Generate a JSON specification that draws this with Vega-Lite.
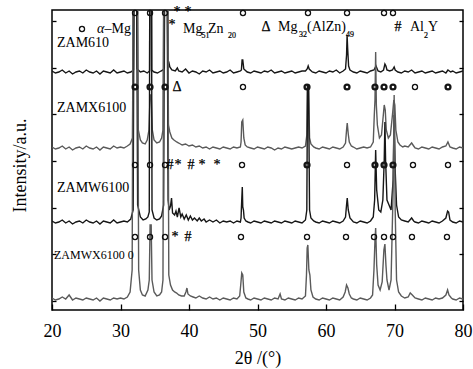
{
  "$schema": "https://vega.github.io/schema/vega-lite/v6.json",
  "autosize": {"type": "none"},
  "padding": {"left": 52, "top": 10, "right": 10, "bottom": 59},
  "width": 411,
  "height": 300,
  "background": "white",
  "view": {"stroke": "black", "strokeWidth": 1.5},
  "config": {"font": "Liberation Serif", "text": {"font": "Liberation Serif"}},
  "datasets": {
    "xrd": [
      {"s":"ZAM610","t":20,"i":239},{"s":"ZAM610","t":20.5,"i":237},{"s":"ZAM610","t":21,"i":238},{"s":"ZAM610","t":21.5,"i":240},{"s":"ZAM610","t":22,"i":237},{"s":"ZAM610","t":22.5,"i":239},{"s":"ZAM610","t":23,"i":236},{"s":"ZAM610","t":23.5,"i":238},{"s":"ZAM610","t":24,"i":239},{"s":"ZAM610","t":24.5,"i":237},{"s":"ZAM610","t":25,"i":240},{"s":"ZAM610","t":25.5,"i":238},{"s":"ZAM610","t":26,"i":237},{"s":"ZAM610","t":26.5,"i":239},{"s":"ZAM610","t":27,"i":236},{"s":"ZAM610","t":27.5,"i":239},{"s":"ZAM610","t":28,"i":238},{"s":"ZAM610","t":28.5,"i":237},{"s":"ZAM610","t":29,"i":240},{"s":"ZAM610","t":29.5,"i":237},{"s":"ZAM610","t":30,"i":238},{"s":"ZAM610","t":30.5,"i":239},{"s":"ZAM610","t":31,"i":237},{"s":"ZAM610","t":31.5,"i":238},{"s":"ZAM610","t":31.9,"i":240},{"s":"ZAM610","t":32.12,"i":640},{"s":"ZAM610","t":32.18,"i":640},{"s":"ZAM610","t":32.45,"i":241},{"s":"ZAM610","t":32.9,"i":238},{"s":"ZAM610","t":33.4,"i":239},{"s":"ZAM610","t":33.9,"i":237},{"s":"ZAM610","t":34.25,"i":239},{"s":"ZAM610","t":34.36,"i":640},{"s":"ZAM610","t":34.44,"i":640},{"s":"ZAM610","t":34.55,"i":240},{"s":"ZAM610","t":34.9,"i":238},{"s":"ZAM610","t":35.4,"i":237},{"s":"ZAM610","t":35.9,"i":239},{"s":"ZAM610","t":36.2,"i":240},{"s":"ZAM610","t":36.4,"i":242},{"s":"ZAM610","t":36.57,"i":640},{"s":"ZAM610","t":36.63,"i":640},{"s":"ZAM610","t":36.9,"i":250},{"s":"ZAM610","t":37.05,"i":248},{"s":"ZAM610","t":37.2,"i":243},{"s":"ZAM610","t":37.5,"i":240},{"s":"ZAM610","t":38.0,"i":239},{"s":"ZAM610","t":38.3,"i":242},{"s":"ZAM610","t":38.5,"i":239},{"s":"ZAM610","t":39.0,"i":238},{"s":"ZAM610","t":39.5,"i":241},{"s":"ZAM610","t":40,"i":237},{"s":"ZAM610","t":40.5,"i":239},{"s":"ZAM610","t":41,"i":238},{"s":"ZAM610","t":41.5,"i":236},{"s":"ZAM610","t":42,"i":239},{"s":"ZAM610","t":42.5,"i":238},{"s":"ZAM610","t":43,"i":240},{"s":"ZAM610","t":43.5,"i":237},{"s":"ZAM610","t":44,"i":238},{"s":"ZAM610","t":44.5,"i":239},{"s":"ZAM610","t":45,"i":237},{"s":"ZAM610","t":45.5,"i":238},{"s":"ZAM610","t":46,"i":240},{"s":"ZAM610","t":46.5,"i":237},{"s":"ZAM610","t":47,"i":238},{"s":"ZAM610","t":47.5,"i":239},{"s":"ZAM610","t":47.65,"i":240},{"s":"ZAM610","t":47.75,"i":250},{"s":"ZAM610","t":47.85,"i":250},{"s":"ZAM610","t":48.0,"i":241},{"s":"ZAM610","t":48.5,"i":238},{"s":"ZAM610","t":49,"i":237},{"s":"ZAM610","t":49.5,"i":239},{"s":"ZAM610","t":50,"i":238},{"s":"ZAM610","t":50.5,"i":237},{"s":"ZAM610","t":51,"i":239},{"s":"ZAM610","t":51.5,"i":238},{"s":"ZAM610","t":52,"i":240},{"s":"ZAM610","t":52.5,"i":237},{"s":"ZAM610","t":53,"i":238},{"s":"ZAM610","t":53.5,"i":239},{"s":"ZAM610","t":54,"i":237},{"s":"ZAM610","t":54.5,"i":238},{"s":"ZAM610","t":55,"i":239},{"s":"ZAM610","t":55.5,"i":237},{"s":"ZAM610","t":56,"i":238},{"s":"ZAM610","t":56.5,"i":239},{"s":"ZAM610","t":57.0,"i":239},{"s":"ZAM610","t":57.25,"i":241},{"s":"ZAM610","t":57.4,"i":244},{"s":"ZAM610","t":57.55,"i":241},{"s":"ZAM610","t":58,"i":238},{"s":"ZAM610","t":58.5,"i":237},{"s":"ZAM610","t":59,"i":239},{"s":"ZAM610","t":59.5,"i":238},{"s":"ZAM610","t":60,"i":237},{"s":"ZAM610","t":60.5,"i":239},{"s":"ZAM610","t":61,"i":238},{"s":"ZAM610","t":61.5,"i":240},{"s":"ZAM610","t":62,"i":237},{"s":"ZAM610","t":62.5,"i":239},{"s":"ZAM610","t":62.85,"i":241},{"s":"ZAM610","t":63.0,"i":255},{"s":"ZAM610","t":63.08,"i":275},{"s":"ZAM610","t":63.16,"i":262},{"s":"ZAM610","t":63.3,"i":244},{"s":"ZAM610","t":63.5,"i":240},{"s":"ZAM610","t":64,"i":238},{"s":"ZAM610","t":64.5,"i":237},{"s":"ZAM610","t":65,"i":239},{"s":"ZAM610","t":65.5,"i":238},{"s":"ZAM610","t":66,"i":237},{"s":"ZAM610","t":66.5,"i":239},{"s":"ZAM610","t":67.0,"i":240},{"s":"ZAM610","t":67.3,"i":244},{"s":"ZAM610","t":67.6,"i":239},{"s":"ZAM610","t":68.0,"i":238},{"s":"ZAM610","t":68.4,"i":240},{"s":"ZAM610","t":68.6,"i":246},{"s":"ZAM610","t":68.75,"i":244},{"s":"ZAM610","t":68.9,"i":240},{"s":"ZAM610","t":69.3,"i":239},{"s":"ZAM610","t":69.7,"i":240},{"s":"ZAM610","t":69.95,"i":243},{"s":"ZAM610","t":70.1,"i":240},{"s":"ZAM610","t":70.5,"i":238},{"s":"ZAM610","t":71,"i":237},{"s":"ZAM610","t":71.5,"i":239},{"s":"ZAM610","t":72,"i":238},{"s":"ZAM610","t":72.5,"i":240},{"s":"ZAM610","t":73,"i":237},{"s":"ZAM610","t":73.5,"i":238},{"s":"ZAM610","t":74,"i":239},{"s":"ZAM610","t":74.5,"i":237},{"s":"ZAM610","t":75,"i":238},{"s":"ZAM610","t":75.5,"i":239},{"s":"ZAM610","t":76,"i":237},{"s":"ZAM610","t":76.5,"i":238},{"s":"ZAM610","t":77,"i":239},{"s":"ZAM610","t":77.5,"i":237},{"s":"ZAM610","t":77.8,"i":240},{"s":"ZAM610","t":78.2,"i":238},{"s":"ZAM610","t":78.5,"i":239},{"s":"ZAM610","t":79,"i":237},{"s":"ZAM610","t":79.5,"i":238},{"s":"ZAM610","t":80,"i":239},

      {"s":"ZAMX6100","t":20,"i":163},{"s":"ZAMX6100","t":20.5,"i":161},{"s":"ZAMX6100","t":21,"i":162},{"s":"ZAMX6100","t":21.5,"i":164},{"s":"ZAMX6100","t":22,"i":161},{"s":"ZAMX6100","t":22.5,"i":163},{"s":"ZAMX6100","t":23,"i":160},{"s":"ZAMX6100","t":23.5,"i":162},{"s":"ZAMX6100","t":24,"i":163},{"s":"ZAMX6100","t":24.5,"i":161},{"s":"ZAMX6100","t":25,"i":164},{"s":"ZAMX6100","t":25.5,"i":162},{"s":"ZAMX6100","t":26,"i":161},{"s":"ZAMX6100","t":26.5,"i":163},{"s":"ZAMX6100","t":27,"i":160},{"s":"ZAMX6100","t":27.5,"i":163},{"s":"ZAMX6100","t":28,"i":162},{"s":"ZAMX6100","t":28.5,"i":161},{"s":"ZAMX6100","t":29,"i":164},{"s":"ZAMX6100","t":29.5,"i":162},{"s":"ZAMX6100","t":30,"i":163},{"s":"ZAMX6100","t":30.5,"i":162},{"s":"ZAMX6100","t":31,"i":164},{"s":"ZAMX6100","t":31.4,"i":166},{"s":"ZAMX6100","t":31.75,"i":172},{"s":"ZAMX6100","t":32.06,"i":600},{"s":"ZAMX6100","t":32.24,"i":600},{"s":"ZAMX6100","t":32.6,"i":180},{"s":"ZAMX6100","t":32.9,"i":170},{"s":"ZAMX6100","t":33.2,"i":167},{"s":"ZAMX6100","t":33.6,"i":166},{"s":"ZAMX6100","t":33.9,"i":170},{"s":"ZAMX6100","t":34.15,"i":180},{"s":"ZAMX6100","t":34.32,"i":215},{"s":"ZAMX6100","t":34.48,"i":215},{"s":"ZAMX6100","t":34.65,"i":180},{"s":"ZAMX6100","t":34.9,"i":170},{"s":"ZAMX6100","t":35.3,"i":167},{"s":"ZAMX6100","t":35.7,"i":168},{"s":"ZAMX6100","t":36.0,"i":172},{"s":"ZAMX6100","t":36.2,"i":180},{"s":"ZAMX6100","t":36.51,"i":600},{"s":"ZAMX6100","t":36.69,"i":600},{"s":"ZAMX6100","t":37.0,"i":185},{"s":"ZAMX6100","t":37.2,"i":178},{"s":"ZAMX6100","t":37.5,"i":172},{"s":"ZAMX6100","t":37.8,"i":170},{"s":"ZAMX6100","t":38.2,"i":168},{"s":"ZAMX6100","t":38.5,"i":167},{"s":"ZAMX6100","t":39,"i":165},{"s":"ZAMX6100","t":39.5,"i":166},{"s":"ZAMX6100","t":40,"i":164},{"s":"ZAMX6100","t":40.5,"i":165},{"s":"ZAMX6100","t":41,"i":163},{"s":"ZAMX6100","t":41.5,"i":164},{"s":"ZAMX6100","t":42,"i":162},{"s":"ZAMX6100","t":42.5,"i":163},{"s":"ZAMX6100","t":43,"i":161},{"s":"ZAMX6100","t":43.5,"i":163},{"s":"ZAMX6100","t":44,"i":162},{"s":"ZAMX6100","t":44.5,"i":161},{"s":"ZAMX6100","t":45,"i":163},{"s":"ZAMX6100","t":45.5,"i":162},{"s":"ZAMX6100","t":46,"i":161},{"s":"ZAMX6100","t":46.5,"i":163},{"s":"ZAMX6100","t":47,"i":162},{"s":"ZAMX6100","t":47.5,"i":163},{"s":"ZAMX6100","t":47.6,"i":168},{"s":"ZAMX6100","t":47.7,"i":188},{"s":"ZAMX6100","t":47.85,"i":190},{"s":"ZAMX6100","t":48.0,"i":172},{"s":"ZAMX6100","t":48.2,"i":165},{"s":"ZAMX6100","t":48.5,"i":163},{"s":"ZAMX6100","t":49,"i":162},{"s":"ZAMX6100","t":49.5,"i":161},{"s":"ZAMX6100","t":50,"i":163},{"s":"ZAMX6100","t":50.5,"i":162},{"s":"ZAMX6100","t":51,"i":161},{"s":"ZAMX6100","t":51.5,"i":163},{"s":"ZAMX6100","t":52,"i":162},{"s":"ZAMX6100","t":52.5,"i":160},{"s":"ZAMX6100","t":53,"i":162},{"s":"ZAMX6100","t":53.5,"i":161},{"s":"ZAMX6100","t":54,"i":163},{"s":"ZAMX6100","t":54.5,"i":162},{"s":"ZAMX6100","t":55,"i":161},{"s":"ZAMX6100","t":55.5,"i":162},{"s":"ZAMX6100","t":56,"i":163},{"s":"ZAMX6100","t":56.5,"i":162},{"s":"ZAMX6100","t":57.0,"i":164},{"s":"ZAMX6100","t":57.2,"i":175},{"s":"ZAMX6100","t":57.3,"i":225},{"s":"ZAMX6100","t":57.45,"i":225},{"s":"ZAMX6100","t":57.6,"i":172},{"s":"ZAMX6100","t":57.8,"i":166},{"s":"ZAMX6100","t":58.2,"i":163},{"s":"ZAMX6100","t":58.5,"i":162},{"s":"ZAMX6100","t":59,"i":161},{"s":"ZAMX6100","t":59.5,"i":163},{"s":"ZAMX6100","t":60,"i":162},{"s":"ZAMX6100","t":60.5,"i":161},{"s":"ZAMX6100","t":61,"i":163},{"s":"ZAMX6100","t":61.5,"i":162},{"s":"ZAMX6100","t":62,"i":161},{"s":"ZAMX6100","t":62.5,"i":163},{"s":"ZAMX6100","t":62.85,"i":167},{"s":"ZAMX6100","t":63.0,"i":180},{"s":"ZAMX6100","t":63.1,"i":187},{"s":"ZAMX6100","t":63.25,"i":176},{"s":"ZAMX6100","t":63.4,"i":168},{"s":"ZAMX6100","t":63.7,"i":164},{"s":"ZAMX6100","t":64,"i":163},{"s":"ZAMX6100","t":64.5,"i":161},{"s":"ZAMX6100","t":65,"i":162},{"s":"ZAMX6100","t":65.5,"i":163},{"s":"ZAMX6100","t":66,"i":162},{"s":"ZAMX6100","t":66.5,"i":163},{"s":"ZAMX6100","t":66.9,"i":168},{"s":"ZAMX6100","t":67.05,"i":195},{"s":"ZAMX6100","t":67.15,"i":210},{"s":"ZAMX6100","t":67.25,"i":258},{"s":"ZAMX6100","t":67.35,"i":205},{"s":"ZAMX6100","t":67.5,"i":185},{"s":"ZAMX6100","t":67.8,"i":172},{"s":"ZAMX6100","t":68.1,"i":175},{"s":"ZAMX6100","t":68.3,"i":190},{"s":"ZAMX6100","t":68.5,"i":205},{"s":"ZAMX6100","t":68.65,"i":200},{"s":"ZAMX6100","t":68.8,"i":180},{"s":"ZAMX6100","t":69.1,"i":172},{"s":"ZAMX6100","t":69.4,"i":175},{"s":"ZAMX6100","t":69.7,"i":195},{"s":"ZAMX6100","t":69.9,"i":210},{"s":"ZAMX6100","t":70.05,"i":205},{"s":"ZAMX6100","t":70.2,"i":180},{"s":"ZAMX6100","t":70.5,"i":168},{"s":"ZAMX6100","t":70.8,"i":165},{"s":"ZAMX6100","t":71.2,"i":163},{"s":"ZAMX6100","t":71.5,"i":164},{"s":"ZAMX6100","t":72,"i":163},{"s":"ZAMX6100","t":72.5,"i":167},{"s":"ZAMX6100","t":72.8,"i":164},{"s":"ZAMX6100","t":73,"i":162},{"s":"ZAMX6100","t":73.5,"i":161},{"s":"ZAMX6100","t":74,"i":163},{"s":"ZAMX6100","t":74.5,"i":162},{"s":"ZAMX6100","t":75,"i":161},{"s":"ZAMX6100","t":75.5,"i":163},{"s":"ZAMX6100","t":76,"i":162},{"s":"ZAMX6100","t":76.5,"i":161},{"s":"ZAMX6100","t":77,"i":163},{"s":"ZAMX6100","t":77.5,"i":164},{"s":"ZAMX6100","t":77.8,"i":168},{"s":"ZAMX6100","t":78.1,"i":163},{"s":"ZAMX6100","t":78.5,"i":162},{"s":"ZAMX6100","t":79,"i":161},{"s":"ZAMX6100","t":79.5,"i":163},{"s":"ZAMX6100","t":80,"i":162},

      {"s":"ZAMW6100","t":20,"i":89},{"s":"ZAMW6100","t":20.5,"i":87},{"s":"ZAMW6100","t":21,"i":88},{"s":"ZAMW6100","t":21.5,"i":90},{"s":"ZAMW6100","t":22,"i":87},{"s":"ZAMW6100","t":22.5,"i":89},{"s":"ZAMW6100","t":23,"i":86},{"s":"ZAMW6100","t":23.5,"i":88},{"s":"ZAMW6100","t":24,"i":89},{"s":"ZAMW6100","t":24.5,"i":87},{"s":"ZAMW6100","t":25,"i":90},{"s":"ZAMW6100","t":25.5,"i":88},{"s":"ZAMW6100","t":26,"i":87},{"s":"ZAMW6100","t":26.5,"i":89},{"s":"ZAMW6100","t":27,"i":86},{"s":"ZAMW6100","t":27.5,"i":89},{"s":"ZAMW6100","t":28,"i":88},{"s":"ZAMW6100","t":28.5,"i":87},{"s":"ZAMW6100","t":29,"i":90},{"s":"ZAMW6100","t":29.5,"i":87},{"s":"ZAMW6100","t":30,"i":88},{"s":"ZAMW6100","t":30.5,"i":89},{"s":"ZAMW6100","t":31,"i":88},{"s":"ZAMW6100","t":31.5,"i":91},{"s":"ZAMW6100","t":31.85,"i":100},{"s":"ZAMW6100","t":32.12,"i":600},{"s":"ZAMW6100","t":32.18,"i":600},{"s":"ZAMW6100","t":32.5,"i":105},{"s":"ZAMW6100","t":32.9,"i":93},{"s":"ZAMW6100","t":33.3,"i":90},{"s":"ZAMW6100","t":33.7,"i":91},{"s":"ZAMW6100","t":34.0,"i":93},{"s":"ZAMW6100","t":34.2,"i":98},{"s":"ZAMW6100","t":34.36,"i":600},{"s":"ZAMW6100","t":34.44,"i":600},{"s":"ZAMW6100","t":34.6,"i":100},{"s":"ZAMW6100","t":34.9,"i":92},{"s":"ZAMW6100","t":35.3,"i":90},{"s":"ZAMW6100","t":35.7,"i":91},{"s":"ZAMW6100","t":36.0,"i":94},{"s":"ZAMW6100","t":36.3,"i":105},{"s":"ZAMW6100","t":36.57,"i":600},{"s":"ZAMW6100","t":36.63,"i":600},{"s":"ZAMW6100","t":36.95,"i":110},{"s":"ZAMW6100","t":37.1,"i":100},{"s":"ZAMW6100","t":37.3,"i":104},{"s":"ZAMW6100","t":37.45,"i":112},{"s":"ZAMW6100","t":37.6,"i":97},{"s":"ZAMW6100","t":37.9,"i":95},{"s":"ZAMW6100","t":38.1,"i":99},{"s":"ZAMW6100","t":38.3,"i":93},{"s":"ZAMW6100","t":38.55,"i":102},{"s":"ZAMW6100","t":38.8,"i":93},{"s":"ZAMW6100","t":39.0,"i":96},{"s":"ZAMW6100","t":39.3,"i":91},{"s":"ZAMW6100","t":39.6,"i":95},{"s":"ZAMW6100","t":39.9,"i":90},{"s":"ZAMW6100","t":40.2,"i":94},{"s":"ZAMW6100","t":40.5,"i":90},{"s":"ZAMW6100","t":40.8,"i":92},{"s":"ZAMW6100","t":41.2,"i":89},{"s":"ZAMW6100","t":41.5,"i":92},{"s":"ZAMW6100","t":41.8,"i":89},{"s":"ZAMW6100","t":42.2,"i":91},{"s":"ZAMW6100","t":42.5,"i":88},{"s":"ZAMW6100","t":43,"i":90},{"s":"ZAMW6100","t":43.5,"i":88},{"s":"ZAMW6100","t":44,"i":90},{"s":"ZAMW6100","t":44.5,"i":87},{"s":"ZAMW6100","t":45,"i":89},{"s":"ZAMW6100","t":45.5,"i":88},{"s":"ZAMW6100","t":46,"i":89},{"s":"ZAMW6100","t":46.5,"i":87},{"s":"ZAMW6100","t":47,"i":89},{"s":"ZAMW6100","t":47.5,"i":88},{"s":"ZAMW6100","t":47.6,"i":92},{"s":"ZAMW6100","t":47.65,"i":102},{"s":"ZAMW6100","t":47.78,"i":123},{"s":"ZAMW6100","t":47.85,"i":103},{"s":"ZAMW6100","t":47.95,"i":100},{"s":"ZAMW6100","t":48.05,"i":92},{"s":"ZAMW6100","t":48.3,"i":89},{"s":"ZAMW6100","t":48.6,"i":88},{"s":"ZAMW6100","t":49,"i":87},{"s":"ZAMW6100","t":49.5,"i":89},{"s":"ZAMW6100","t":50,"i":88},{"s":"ZAMW6100","t":50.5,"i":87},{"s":"ZAMW6100","t":51,"i":89},{"s":"ZAMW6100","t":51.5,"i":88},{"s":"ZAMW6100","t":52,"i":87},{"s":"ZAMW6100","t":52.5,"i":89},{"s":"ZAMW6100","t":53,"i":88},{"s":"ZAMW6100","t":53.5,"i":87},{"s":"ZAMW6100","t":54,"i":89},{"s":"ZAMW6100","t":54.5,"i":88},{"s":"ZAMW6100","t":55,"i":87},{"s":"ZAMW6100","t":55.5,"i":89},{"s":"ZAMW6100","t":56,"i":88},{"s":"ZAMW6100","t":56.5,"i":87},{"s":"ZAMW6100","t":57.0,"i":90},{"s":"ZAMW6100","t":57.2,"i":100},{"s":"ZAMW6100","t":57.3,"i":225},{"s":"ZAMW6100","t":57.45,"i":225},{"s":"ZAMW6100","t":57.6,"i":100},{"s":"ZAMW6100","t":57.8,"i":92},{"s":"ZAMW6100","t":58.2,"i":89},{"s":"ZAMW6100","t":58.5,"i":88},{"s":"ZAMW6100","t":59,"i":87},{"s":"ZAMW6100","t":59.5,"i":89},{"s":"ZAMW6100","t":60,"i":88},{"s":"ZAMW6100","t":60.5,"i":87},{"s":"ZAMW6100","t":61,"i":89},{"s":"ZAMW6100","t":61.5,"i":88},{"s":"ZAMW6100","t":62,"i":87},{"s":"ZAMW6100","t":62.5,"i":89},{"s":"ZAMW6100","t":62.85,"i":93},{"s":"ZAMW6100","t":63.0,"i":105},{"s":"ZAMW6100","t":63.1,"i":112},{"s":"ZAMW6100","t":63.25,"i":100},{"s":"ZAMW6100","t":63.5,"i":92},{"s":"ZAMW6100","t":64,"i":88},{"s":"ZAMW6100","t":64.5,"i":87},{"s":"ZAMW6100","t":65,"i":89},{"s":"ZAMW6100","t":65.5,"i":88},{"s":"ZAMW6100","t":66,"i":87},{"s":"ZAMW6100","t":66.5,"i":89},{"s":"ZAMW6100","t":66.9,"i":93},{"s":"ZAMW6100","t":67.1,"i":110},{"s":"ZAMW6100","t":67.25,"i":160},{"s":"ZAMW6100","t":67.4,"i":120},{"s":"ZAMW6100","t":67.7,"i":100},{"s":"ZAMW6100","t":68.0,"i":98},{"s":"ZAMW6100","t":68.3,"i":110},{"s":"ZAMW6100","t":68.5,"i":150},{"s":"ZAMW6100","t":68.6,"i":188},{"s":"ZAMW6100","t":68.7,"i":150},{"s":"ZAMW6100","t":68.9,"i":110},{"s":"ZAMW6100","t":69.2,"i":105},{"s":"ZAMW6100","t":69.5,"i":100},{"s":"ZAMW6100","t":69.8,"i":130},{"s":"ZAMW6100","t":69.95,"i":195},{"s":"ZAMW6100","t":70.1,"i":140},{"s":"ZAMW6100","t":70.3,"i":105},{"s":"ZAMW6100","t":70.6,"i":93},{"s":"ZAMW6100","t":71,"i":90},{"s":"ZAMW6100","t":71.5,"i":89},{"s":"ZAMW6100","t":72,"i":88},{"s":"ZAMW6100","t":72.5,"i":92},{"s":"ZAMW6100","t":72.8,"i":89},{"s":"ZAMW6100","t":73,"i":88},{"s":"ZAMW6100","t":73.5,"i":87},{"s":"ZAMW6100","t":74,"i":89},{"s":"ZAMW6100","t":74.5,"i":88},{"s":"ZAMW6100","t":75,"i":87},{"s":"ZAMW6100","t":75.5,"i":89},{"s":"ZAMW6100","t":76,"i":88},{"s":"ZAMW6100","t":76.5,"i":87},{"s":"ZAMW6100","t":77,"i":89},{"s":"ZAMW6100","t":77.5,"i":92},{"s":"ZAMW6100","t":77.75,"i":99},{"s":"ZAMW6100","t":77.9,"i":98},{"s":"ZAMW6100","t":78.1,"i":90},{"s":"ZAMW6100","t":78.5,"i":88},{"s":"ZAMW6100","t":79,"i":87},{"s":"ZAMW6100","t":79.5,"i":89},{"s":"ZAMW6100","t":80,"i":88},

      {"s":"ZAMWX6100","t":20,"i":12},{"s":"ZAMWX6100","t":20.5,"i":10},{"s":"ZAMWX6100","t":21,"i":11},{"s":"ZAMWX6100","t":21.5,"i":13},{"s":"ZAMWX6100","t":22,"i":11},{"s":"ZAMWX6100","t":22.5,"i":15},{"s":"ZAMWX6100","t":22.8,"i":12},{"s":"ZAMWX6100","t":23,"i":10},{"s":"ZAMWX6100","t":23.5,"i":12},{"s":"ZAMWX6100","t":24,"i":11},{"s":"ZAMWX6100","t":24.5,"i":10},{"s":"ZAMWX6100","t":25,"i":12},{"s":"ZAMWX6100","t":25.5,"i":11},{"s":"ZAMWX6100","t":26,"i":10},{"s":"ZAMWX6100","t":26.5,"i":12},{"s":"ZAMWX6100","t":27,"i":9},{"s":"ZAMWX6100","t":27.5,"i":12},{"s":"ZAMWX6100","t":28,"i":11},{"s":"ZAMWX6100","t":28.5,"i":10},{"s":"ZAMWX6100","t":29,"i":12},{"s":"ZAMWX6100","t":29.5,"i":11},{"s":"ZAMWX6100","t":30,"i":12},{"s":"ZAMWX6100","t":30.5,"i":11},{"s":"ZAMWX6100","t":31,"i":13},{"s":"ZAMWX6100","t":31.4,"i":18},{"s":"ZAMWX6100","t":31.7,"i":40},{"s":"ZAMWX6100","t":31.98,"i":600},{"s":"ZAMWX6100","t":32.32,"i":600},{"s":"ZAMWX6100","t":32.65,"i":40},{"s":"ZAMWX6100","t":32.9,"i":20},{"s":"ZAMWX6100","t":33.2,"i":15},{"s":"ZAMWX6100","t":33.6,"i":14},{"s":"ZAMWX6100","t":34.0,"i":20},{"s":"ZAMWX6100","t":34.2,"i":30},{"s":"ZAMWX6100","t":34.32,"i":85},{"s":"ZAMWX6100","t":34.48,"i":85},{"s":"ZAMWX6100","t":34.6,"i":30},{"s":"ZAMWX6100","t":34.9,"i":18},{"s":"ZAMWX6100","t":35.3,"i":14},{"s":"ZAMWX6100","t":35.7,"i":15},{"s":"ZAMWX6100","t":36.0,"i":18},{"s":"ZAMWX6100","t":36.2,"i":30},{"s":"ZAMWX6100","t":36.43,"i":600},{"s":"ZAMWX6100","t":36.77,"i":600},{"s":"ZAMWX6100","t":37.05,"i":35},{"s":"ZAMWX6100","t":37.3,"i":25},{"s":"ZAMWX6100","t":37.6,"i":20},{"s":"ZAMWX6100","t":37.9,"i":18},{"s":"ZAMWX6100","t":38.2,"i":17},{"s":"ZAMWX6100","t":38.5,"i":15},{"s":"ZAMWX6100","t":38.9,"i":14},{"s":"ZAMWX6100","t":39.3,"i":14},{"s":"ZAMWX6100","t":39.55,"i":18},{"s":"ZAMWX6100","t":39.7,"i":22},{"s":"ZAMWX6100","t":39.85,"i":16},{"s":"ZAMWX6100","t":40.2,"i":14},{"s":"ZAMWX6100","t":40.6,"i":13},{"s":"ZAMWX6100","t":41,"i":12},{"s":"ZAMWX6100","t":41.5,"i":14},{"s":"ZAMWX6100","t":42,"i":12},{"s":"ZAMWX6100","t":42.5,"i":11},{"s":"ZAMWX6100","t":43,"i":13},{"s":"ZAMWX6100","t":43.5,"i":11},{"s":"ZAMWX6100","t":44,"i":12},{"s":"ZAMWX6100","t":44.5,"i":10},{"s":"ZAMWX6100","t":45,"i":12},{"s":"ZAMWX6100","t":45.5,"i":11},{"s":"ZAMWX6100","t":46,"i":10},{"s":"ZAMWX6100","t":46.5,"i":12},{"s":"ZAMWX6100","t":47,"i":11},{"s":"ZAMWX6100","t":47.4,"i":14},{"s":"ZAMWX6100","t":47.55,"i":25},{"s":"ZAMWX6100","t":47.7,"i":37},{"s":"ZAMWX6100","t":47.85,"i":35},{"s":"ZAMWX6100","t":48.0,"i":18},{"s":"ZAMWX6100","t":48.3,"i":12},{"s":"ZAMWX6100","t":48.6,"i":11},{"s":"ZAMWX6100","t":49,"i":10},{"s":"ZAMWX6100","t":49.5,"i":12},{"s":"ZAMWX6100","t":50,"i":11},{"s":"ZAMWX6100","t":50.5,"i":10},{"s":"ZAMWX6100","t":51,"i":12},{"s":"ZAMWX6100","t":51.5,"i":11},{"s":"ZAMWX6100","t":52,"i":10},{"s":"ZAMWX6100","t":52.5,"i":12},{"s":"ZAMWX6100","t":53,"i":11},{"s":"ZAMWX6100","t":53.3,"i":16},{"s":"ZAMWX6100","t":53.5,"i":11},{"s":"ZAMWX6100","t":54,"i":10},{"s":"ZAMWX6100","t":54.5,"i":12},{"s":"ZAMWX6100","t":55,"i":11},{"s":"ZAMWX6100","t":55.5,"i":10},{"s":"ZAMWX6100","t":56,"i":12},{"s":"ZAMWX6100","t":56.5,"i":11},{"s":"ZAMWX6100","t":57.0,"i":14},{"s":"ZAMWX6100","t":57.15,"i":35},{"s":"ZAMWX6100","t":57.25,"i":62},{"s":"ZAMWX6100","t":57.35,"i":65},{"s":"ZAMWX6100","t":57.5,"i":40},{"s":"ZAMWX6100","t":57.65,"i":35},{"s":"ZAMWX6100","t":57.8,"i":20},{"s":"ZAMWX6100","t":58.1,"i":13},{"s":"ZAMWX6100","t":58.5,"i":11},{"s":"ZAMWX6100","t":59,"i":10},{"s":"ZAMWX6100","t":59.5,"i":12},{"s":"ZAMWX6100","t":60,"i":11},{"s":"ZAMWX6100","t":60.5,"i":10},{"s":"ZAMWX6100","t":61,"i":12},{"s":"ZAMWX6100","t":61.5,"i":11},{"s":"ZAMWX6100","t":62,"i":10},{"s":"ZAMWX6100","t":62.5,"i":13},{"s":"ZAMWX6100","t":62.8,"i":18},{"s":"ZAMWX6100","t":63.0,"i":25},{"s":"ZAMWX6100","t":63.2,"i":22},{"s":"ZAMWX6100","t":63.4,"i":16},{"s":"ZAMWX6100","t":63.7,"i":12},{"s":"ZAMWX6100","t":64,"i":11},{"s":"ZAMWX6100","t":64.5,"i":10},{"s":"ZAMWX6100","t":65,"i":12},{"s":"ZAMWX6100","t":65.5,"i":11},{"s":"ZAMWX6100","t":66,"i":10},{"s":"ZAMWX6100","t":66.5,"i":12},{"s":"ZAMWX6100","t":66.8,"i":15},{"s":"ZAMWX6100","t":67.0,"i":40},{"s":"ZAMWX6100","t":67.15,"i":70},{"s":"ZAMWX6100","t":67.25,"i":82},{"s":"ZAMWX6100","t":67.4,"i":45},{"s":"ZAMWX6100","t":67.6,"i":25},{"s":"ZAMWX6100","t":67.9,"i":20},{"s":"ZAMWX6100","t":68.2,"i":28},{"s":"ZAMWX6100","t":68.45,"i":60},{"s":"ZAMWX6100","t":68.6,"i":66},{"s":"ZAMWX6100","t":68.75,"i":45},{"s":"ZAMWX6100","t":68.9,"i":30},{"s":"ZAMWX6100","t":69.2,"i":20},{"s":"ZAMWX6100","t":69.5,"i":30},{"s":"ZAMWX6100","t":69.8,"i":120},{"s":"ZAMWX6100","t":69.95,"i":215},{"s":"ZAMWX6100","t":70.1,"i":100},{"s":"ZAMWX6100","t":70.3,"i":30},{"s":"ZAMWX6100","t":70.6,"i":18},{"s":"ZAMWX6100","t":71,"i":14},{"s":"ZAMWX6100","t":71.5,"i":12},{"s":"ZAMWX6100","t":72,"i":13},{"s":"ZAMWX6100","t":72.3,"i":17},{"s":"ZAMWX6100","t":72.6,"i":15},{"s":"ZAMWX6100","t":73,"i":12},{"s":"ZAMWX6100","t":73.5,"i":11},{"s":"ZAMWX6100","t":74,"i":10},{"s":"ZAMWX6100","t":74.5,"i":12},{"s":"ZAMWX6100","t":75,"i":11},{"s":"ZAMWX6100","t":75.5,"i":10},{"s":"ZAMWX6100","t":76,"i":12},{"s":"ZAMWX6100","t":76.5,"i":11},{"s":"ZAMWX6100","t":77,"i":12},{"s":"ZAMWX6100","t":77.5,"i":15},{"s":"ZAMWX6100","t":77.75,"i":20},{"s":"ZAMWX6100","t":77.95,"i":15},{"s":"ZAMWX6100","t":78.3,"i":12},{"s":"ZAMWX6100","t":78.5,"i":11},{"s":"ZAMWX6100","t":79,"i":10},{"s":"ZAMWX6100","t":79.5,"i":12},{"s":"ZAMWX6100","t":80,"i":11}
    ],
    "circ": [
      {"t":24.38,"i":281},
      {"t":32.12,"i":297},{"t":34.31,"i":297},{"t":36.5,"i":297},{"t":47.88,"i":297},{"t":57.37,"i":297},{"t":63.07,"i":297},{"t":68.47,"i":297},{"t":69.78,"i":297},
      {"t":47.88,"i":223},{"t":72.99,"i":223},
      {"t":32.12,"i":145},{"t":34.31,"i":145},{"t":36.5,"i":145},{"t":47.74,"i":145},{"t":63.07,"i":145},{"t":72.7,"i":145},{"t":77.81,"i":145},
      {"t":32.12,"i":73},{"t":34.31,"i":73},{"t":36.5,"i":73},{"t":47.59,"i":73},{"t":57.23,"i":73},{"t":62.92,"i":73},{"t":67.01,"i":73},{"t":68.47,"i":73},{"t":69.78,"i":73},{"t":72.55,"i":73},{"t":77.66,"i":73}
    ],
    "circb": [
      {"t":32.12,"i":223},{"t":34.31,"i":223},{"t":36.5,"i":223},{"t":57.23,"i":223},{"t":63.07,"i":223},{"t":67.15,"i":223},{"t":68.47,"i":223},{"t":69.78,"i":223},{"t":77.81,"i":223},
      {"t":57.23,"i":145},{"t":67.15,"i":145},{"t":68.47,"i":145},{"t":69.78,"i":145}
    ],
    "sym": [
      {"t":38.25,"i":298,"txt":"*"},{"t":39.85,"i":298,"txt":"*"},
      {"t":37.52,"i":285,"txt":"*"},{"t":51.24,"i":283,"txt":"Δ"},{"t":70.51,"i":283,"txt":"#"},
      {"t":38.25,"i":223,"txt":"Δ"},
      {"t":37.23,"i":145,"txt":"#"},{"t":38.39,"i":145,"txt":"*"},{"t":40.29,"i":145,"txt":"#"},{"t":41.9,"i":145,"txt":"*"},{"t":44.09,"i":145,"txt":"*"},
      {"t":37.96,"i":73,"txt":"*"},{"t":39.85,"i":73,"txt":"#"}
    ],
    "words": [
      {"t":20.73,"i":267,"txt":"ZAM610"},{"t":20.73,"i":202,"txt":"ZAMX6100"},{"t":20.73,"i":122,"txt":"ZAMW6100"},
      {"t":27.66,"i":281,"txt":"–Mg"},{"t":39.12,"i":281,"txt":"Mg"},{"t":42.77,"i":281,"txt":"Zn"},
      {"t":52.99,"i":283,"txt":"Mg"},{"t":57.23,"i":283,"txt":"(AlZn)"},{"t":72.26,"i":283,"txt":"Al"},{"t":74.89,"i":283,"txt":"Y"}
    ],
    "subs": [
      {"t":41.82,"i":274,"txt":"51"},{"t":45.69,"i":274,"txt":"20"},{"t":56.06,"i":275,"txt":"32"},{"t":62.92,"i":275,"txt":"49"},{"t":74.31,"i":274,"txt":"2"}
    ],
    "ital": [{"t":26.57,"i":281,"txt":"α"}],
    "small": [{"t":20.29,"i":55,"txt":"ZAMWX6100 0"}]
  },
  "layer": [
    {
      "data": {"name": "xrd"},
      "transform": [{"filter": "datum.s === 'ZAM610'"}],
      "mark": {"type": "line", "clip": true, "strokeWidth": 1.4},
      "encoding": {
        "x": {"field": "t", "type": "quantitative", "scale": {"domain": [20, 80], "nice": false, "zero": false},
          "axis": {"title": "2θ /(°)", "values": [20,25,30,35,40,45,50,55,60,65,70,75,80],
            "labelExpr": "datum.value % 10 === 0 ? datum.label : ''", "labelFlush": false, "labelOverlap": false,
            "domain": false, "grid": false, "tickColor": "black", "tickWidth": 1.3,
            "tickSize": {"condition": {"test": "datum.value % 10 === 0", "value": -6}, "value": -3},
            "labelFont": "Liberation Serif", "labelFontSize": 18, "labelColor": "black", "labelPadding": 18,
            "titleFont": "Liberation Serif", "titleFontSize": 18, "titleFontWeight": "normal", "titleColor": "black",
            "titleY": 48, "titleBaseline": "middle"}},
        "y": {"field": "i", "type": "quantitative", "scale": {"domain": [0, 300], "nice": false, "zero": false},
          "axis": {"title": "Intensity/a.u.", "values": [9, 55.67, 102.33, 149, 195.67, 242.33, 289], "labels": false,
            "domain": false, "grid": false, "tickColor": "black", "tickWidth": 1.3, "tickSize": -4,
            "titleFont": "Liberation Serif", "titleFontSize": 18, "titleFontWeight": "normal", "titleColor": "black",
            "titleX": -32, "titleY": 155, "titleAlign": "center", "titleBaseline": "middle", "titleAngle": -90}},
        "color": {"field": "s", "type": "nominal", "legend": null,
          "scale": {"domain": ["ZAM610", "ZAMX6100", "ZAMW6100", "ZAMWX6100"], "range": ["#161616", "#5a5a5a", "#161616", "#5a5a5a"]}}
      }
    },
    {
      "data": {"name": "xrd"},
      "transform": [{"filter": "datum.s === 'ZAMX6100'"}],
      "mark": {"type": "line", "clip": true, "strokeWidth": 1.4},
      "encoding": {
        "x": {"field": "t", "type": "quantitative"},
        "y": {"field": "i", "type": "quantitative", "axis": null},
        "color": {"field": "s", "type": "nominal", "legend": null}
      }
    },
    {
      "data": {"name": "xrd"},
      "transform": [{"filter": "datum.s === 'ZAMW6100'"}],
      "mark": {"type": "line", "clip": true, "strokeWidth": 1.4},
      "encoding": {
        "x": {"field": "t", "type": "quantitative"},
        "y": {"field": "i", "type": "quantitative", "axis": null},
        "color": {"field": "s", "type": "nominal", "legend": null}
      }
    },
    {
      "data": {"name": "xrd"},
      "transform": [{"filter": "datum.s === 'ZAMWX6100'"}],
      "mark": {"type": "line", "clip": true, "strokeWidth": 1.4},
      "encoding": {
        "x": {"field": "t", "type": "quantitative"},
        "y": {"field": "i", "type": "quantitative",
          "axis": {"orient": "right", "title": null, "values": [9, 55.67, 102.33, 149, 195.67, 242.33, 289], "labels": false,
            "domain": false, "grid": false, "tickColor": "black", "tickWidth": 1.3, "tickSize": -4}},
        "color": {"field": "s", "type": "nominal", "legend": null}
      }
    },
    {
      "data": {"name": "circ"},
      "mark": {"type": "point", "shape": "circle", "filled": false, "size": 26, "strokeWidth": 1.3, "color": "#111", "opacity": 1},
      "encoding": {
        "x": {"field": "t", "type": "quantitative"},
        "y": {"field": "i", "type": "quantitative", "axis": null}
      }
    },
    {
      "data": {"name": "circb"},
      "mark": {"type": "point", "shape": "circle", "filled": false, "size": 24, "strokeWidth": 2.3, "color": "#151515", "opacity": 1},
      "encoding": {
        "x": {"field": "t", "type": "quantitative"},
        "y": {"field": "i", "type": "quantitative", "axis": null}
      }
    },
    {
      "data": {"name": "sym"},
      "mark": {"type": "text", "font": "Liberation Serif", "fontSize": 14, "fill": "black", "stroke": "black", "strokeWidth": 0.25, "align": "center", "baseline": "middle"},
      "encoding": {
        "x": {"field": "t", "type": "quantitative"},
        "y": {"field": "i", "type": "quantitative", "axis": null},
        "text": {"field": "txt"}
      }
    },
    {
      "data": {"name": "words"},
      "mark": {"type": "text", "font": "Liberation Serif", "fontSize": 14, "fill": "black", "align": "left", "baseline": "middle"},
      "encoding": {
        "x": {"field": "t", "type": "quantitative"},
        "y": {"field": "i", "type": "quantitative", "axis": null},
        "text": {"field": "txt"}
      }
    },
    {
      "data": {"name": "subs"},
      "mark": {"type": "text", "font": "Liberation Serif", "fontSize": 8, "fill": "black", "stroke": "black", "strokeWidth": 0.2, "align": "left", "baseline": "middle"},
      "encoding": {
        "x": {"field": "t", "type": "quantitative"},
        "y": {"field": "i", "type": "quantitative", "axis": null},
        "text": {"field": "txt"}
      }
    },
    {
      "data": {"name": "ital"},
      "mark": {"type": "text", "font": "Liberation Serif", "fontSize": 14, "fontStyle": "italic", "fill": "black", "align": "left", "baseline": "middle"},
      "encoding": {
        "x": {"field": "t", "type": "quantitative"},
        "y": {"field": "i", "type": "quantitative", "axis": null},
        "text": {"field": "txt"}
      }
    },
    {
      "data": {"name": "small"},
      "mark": {"type": "text", "font": "Liberation Serif", "fontSize": 12, "fill": "black", "align": "left", "baseline": "middle"},
      "encoding": {
        "x": {"field": "t", "type": "quantitative"},
        "y": {"field": "i", "type": "quantitative", "axis": null},
        "text": {"field": "txt"}
      }
    }
  ],
  "resolve": {"axis": {"y": "independent"}}
}
